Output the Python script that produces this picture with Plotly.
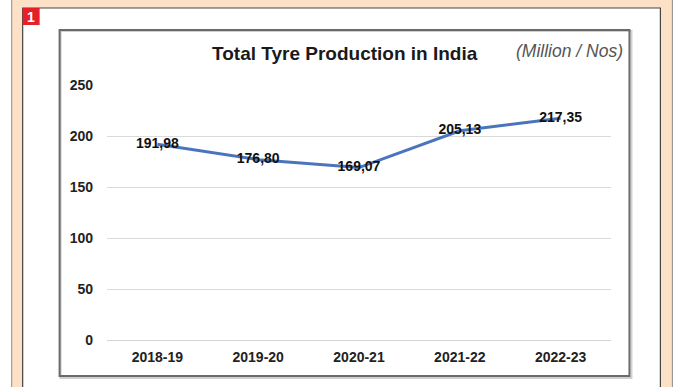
import plotly.graph_objects as go

# Data
years = ["2018-19", "2019-20", "2020-21", "2021-22", "2022-23"]
production = [191.98, 176.80, 169.07, 205.13, 217.35]
labels = ["191,98", "176,80", "169,07", "205,13", "217,35"]
y_ticks = [0, 50, 100, 150, 200, 250]

W, H = 688, 387
L, R, T, B = 106.5, 76.5, 85, 47
PW, PH = W - L - R, H - T - B


def px(x):
    return (x - L) / PW


def py(y):
    return (H - B - y) / PH


FONT = "Liberation Sans, Arial, sans-serif"

fig = go.Figure()
fig.add_trace(go.Scatter(
    x=years, y=production, mode="lines+text",
    text=labels, textposition="middle center",
    textfont=dict(family=FONT, size=14, color="#111111", weight="bold"),
    line=dict(color="#4a74bd", width=3),
    hoverinfo="skip", showlegend=False,
))

shapes = [
    # peach frame
    dict(type="rect", xref="paper", yref="paper", x0=px(11), x1=px(673), y0=py(-5), y1=py(395),
         fillcolor="#fde1c6", line=dict(color="#8a8a8a", width=1), layer="below"),
    # white page panel
    dict(type="rect", xref="paper", yref="paper", x0=px(22), x1=px(661), y0=py(8), y1=py(395),
         fillcolor="#ffffff", line=dict(color="#444444", width=1.2), layer="below"),
    # chart box shadow
    dict(type="rect", xref="paper", yref="paper", x0=px(60), x1=px(632), y0=py(31), y1=py(378),
         fillcolor="rgba(0,0,0,0)", line=dict(color="#d0d0d0", width=2), layer="below"),
    # chart box
    dict(type="rect", xref="paper", yref="paper", x0=px(59), x1=px(630), y0=py(30), y1=py(376),
         fillcolor="rgba(0,0,0,0)", line=dict(color="#6a6a6a", width=2), layer="below"),
    # red number box
    dict(type="rect", xref="paper", yref="paper", x0=px(22), x1=px(39), y0=py(8), y1=py(25),
         fillcolor="#e5202b", line=dict(width=0), layer="above"),
]

annotations = [
    dict(text="1", xref="paper", yref="paper", x=px(30.5), y=py(16.5), showarrow=False,
         font=dict(family=FONT, size=14, color="white", weight="bold"), xanchor="center", yanchor="middle"),
    dict(text="Total Tyre Production in India", xref="paper", yref="paper", x=px(345), y=py(53),
         showarrow=False, xanchor="center", yanchor="middle",
         font=dict(family=FONT, size=19, color="#1a1a1a", weight="bold")),
    dict(text="<i>(Million / Nos)</i>", xref="paper", yref="paper", x=px(570), y=py(51),
         showarrow=False, xanchor="center", yanchor="middle",
         font=dict(family=FONT, size=17.5, color="#555555")),
]

fig.update_layout(
    width=W, height=H,
    margin=dict(l=L, r=R, t=T, b=B),
    paper_bgcolor="white",
    plot_bgcolor="rgba(0,0,0,0)",
    shapes=shapes,
    annotations=annotations,
    xaxis=dict(range=[-0.5, 4.5], showgrid=False, zeroline=False, showline=False, ticks="",
               ticklabelstandoff=7,
               tickfont=dict(family=FONT, size=14, color="#222222", weight="bold")),
    yaxis=dict(range=[0, 250], tickvals=y_ticks, showgrid=True, gridcolor="#dadada", gridwidth=1,
               zeroline=True, zerolinecolor="#d4d4d4", zerolinewidth=1, showline=False, ticks="",
               ticklabelstandoff=13,
               tickfont=dict(family=FONT, size=14, color="#222222", weight="bold")),
)

fig.write_html(
    "out.html",
    config={"displayModeBar": False},
    post_script="document.body.style.margin='0';document.body.style.overflow='hidden';",
)
